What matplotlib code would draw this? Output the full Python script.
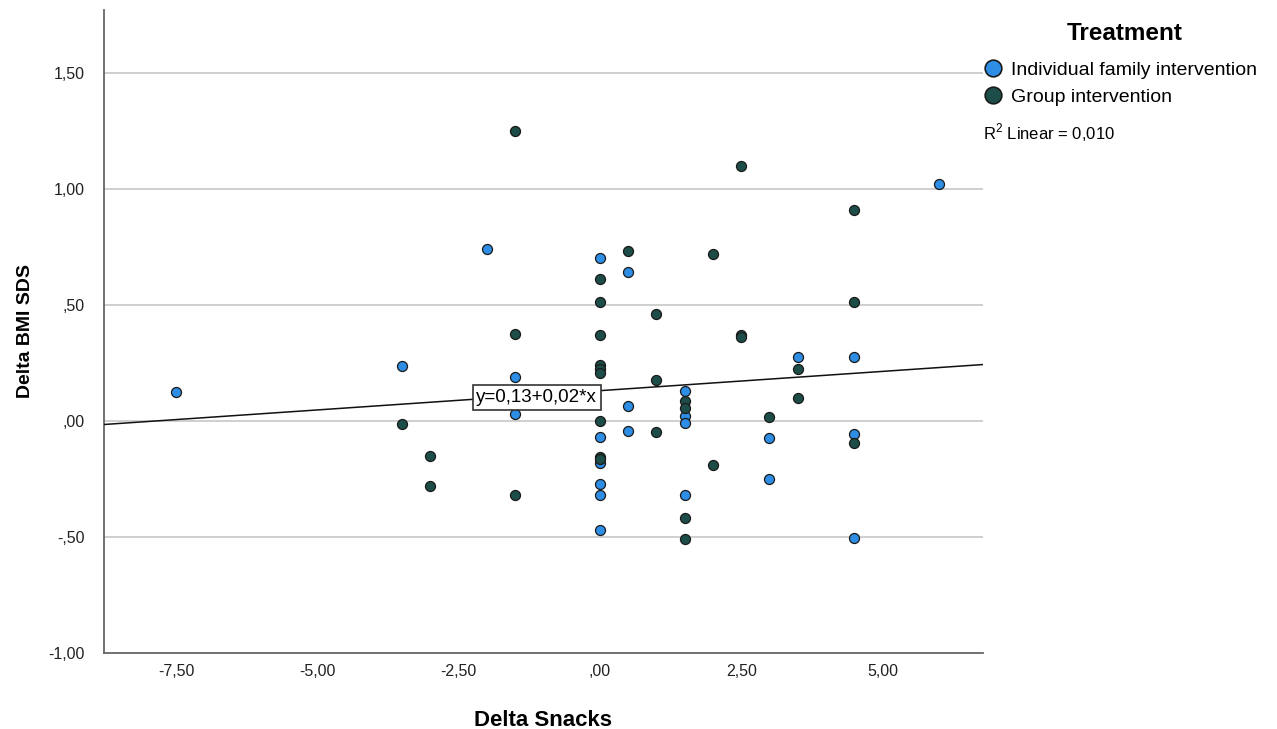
import numpy as np
import matplotlib
matplotlib.use("Agg")
from matplotlib import pyplot as plt
from matplotlib.lines import Line2D

plt.rcParams['font.family'] = ['Liberation Sans', 'DejaVu Sans']
plt.rcParams['mathtext.fontset'] = 'custom'
plt.rcParams['mathtext.rm'] = 'Liberation Sans'

# Individual family intervention
ind_x = [-7.5, -3.5, -2.0, -1.5, -1.5, 0, 0, 0, 0, 0, 0, 0.5, 0.5, 0.5,
         1.5, 1.5, 1.5, 1.5, 3.0, 3.0, 3.5, 4.5, 4.5, 4.5, 6.0]
ind_y = [0.125, 0.235, 0.74, 0.19, 0.03, 0.70, -0.07, -0.18, -0.27, -0.32, -0.47,
         0.64, 0.065, -0.045, 0.13, 0.02, -0.01, -0.32, -0.075, -0.25, 0.275,
         0.275, -0.055, -0.505, 1.02]

# Group intervention
grp_x = [-3.5, -3.0, -3.0, -1.5, -1.5, -1.5, 0, 0, 0, 0, 0, 0, 0, 0, 0, 0.5,
         1.0, 1.0, 1.0, 1.5, 1.5, 1.5, 1.5, 2.0, 2.0, 2.5, 2.5, 2.5, 3.0,
         3.5, 3.5, 4.5, 4.5, 4.5]
grp_y = [-0.015, -0.15, -0.28, 1.25, 0.375, -0.32, 0.61, 0.51, 0.37, 0.24, 0.225,
         0.205, 0.0, -0.155, -0.165, 0.73, 0.46, 0.177, -0.047, 0.085, 0.055,
         -0.42, -0.51, 0.72, -0.19, 1.10, 0.37, 0.36, 0.015, 0.225, 0.10, 0.91,
         0.51, -0.095]

# fit line (total)
fit_intercept = 0.13
fit_slope = 0.0166
fit_label = "y=0,13+0,02*x"
r2_label = r"$\mathrm{R}^{2}$ Linear = 0,010"

x_ticks = [-7.5, -5.0, -2.5, 0.0, 2.5, 5.0]
x_ticklabels = ['-7,50', '-5,00', '-2,50', ',00', '2,50', '5,00']
y_ticks = [-1.0, -0.5, 0.0, 0.5, 1.0, 1.5]
y_ticklabels = ['-1,00', '-,50', ',00', ',50', '1,00', '1,50']

blue = '#2E8DE4'
dark = '#1D4D48'
edge = '#1A1A1A'

fig = plt.figure(figsize=(12.77, 7.29), dpi=100)
ax = fig.add_axes([0.0814, 0.1043, 0.6884, 0.882])

xmin, xmax = -8.78, 6.78
ax.set_xlim(xmin, xmax)
ax.set_ylim(-1.0, 1.77)

for yt in y_ticks[1:]:
    ax.axhline(yt, color='#CCCCCC', lw=1.3, zorder=0)

ax.scatter(ind_x, ind_y, s=52, c=blue, edgecolors=edge, linewidths=0.9, zorder=3)
ax.scatter(grp_x, grp_y, s=52, c=dark, edgecolors=edge, linewidths=0.9, zorder=3)

lx = np.array([xmin, xmax])
ax.plot(lx, fit_intercept + fit_slope * lx, color='#111111', lw=1.1, zorder=4)

bx = -1.12
ax.text(bx, fit_intercept + fit_slope * bx - 0.01, fit_label, fontsize=13.5,
        ha='center', va='center', zorder=5,
        bbox=dict(boxstyle='square,pad=0.2', fc='white', ec='#333333', lw=1.2))

ax.set_xticks(x_ticks)
ax.set_xticklabels(x_ticklabels)
ax.set_yticks(y_ticks)
ax.set_yticklabels(y_ticklabels)
ax.tick_params(axis='both', length=0, labelsize=11.5, colors='#222222')
ax.tick_params(axis='y', pad=14)
ax.tick_params(axis='x', pad=8)

for s in ['top', 'right']:
    ax.spines[s].set_visible(False)
for s in ['left', 'bottom']:
    ax.spines[s].set_color('#666666')
    ax.spines[s].set_linewidth(1.3)

ax.set_xlabel('Delta Snacks', fontsize=16, fontweight='bold', labelpad=22)
ax.set_ylabel('Delta BMI SDS', fontsize=14, fontweight='bold', labelpad=10)

# legend
fig.text(1125 / 1277, 1 - 33 / 729, 'Treatment', fontsize=17.5, fontweight='bold',
         ha='center', va='center')
handles = [Line2D([], [], marker='o', ls='', markersize=12, markerfacecolor=blue,
                  markeredgecolor=edge, markeredgewidth=1.2),
           Line2D([], [], marker='o', ls='', markersize=12, markerfacecolor=dark,
                  markeredgecolor=edge, markeredgewidth=1.2)]
leg = fig.legend(handles, ['Individual family intervention', 'Group intervention'],
                 loc='upper left', bbox_to_anchor=(0.770, 1 - 61 / 729), frameon=False,
                 fontsize=14, handletextpad=0.45,
                 handlelength=1.0, labelspacing=0.5, borderaxespad=0, borderpad=0)

fig.text(983 / 1277, 1 - 133 / 729, r2_label, fontsize=12, ha='left', va='center')

fig.savefig('out.png', dpi=100)
